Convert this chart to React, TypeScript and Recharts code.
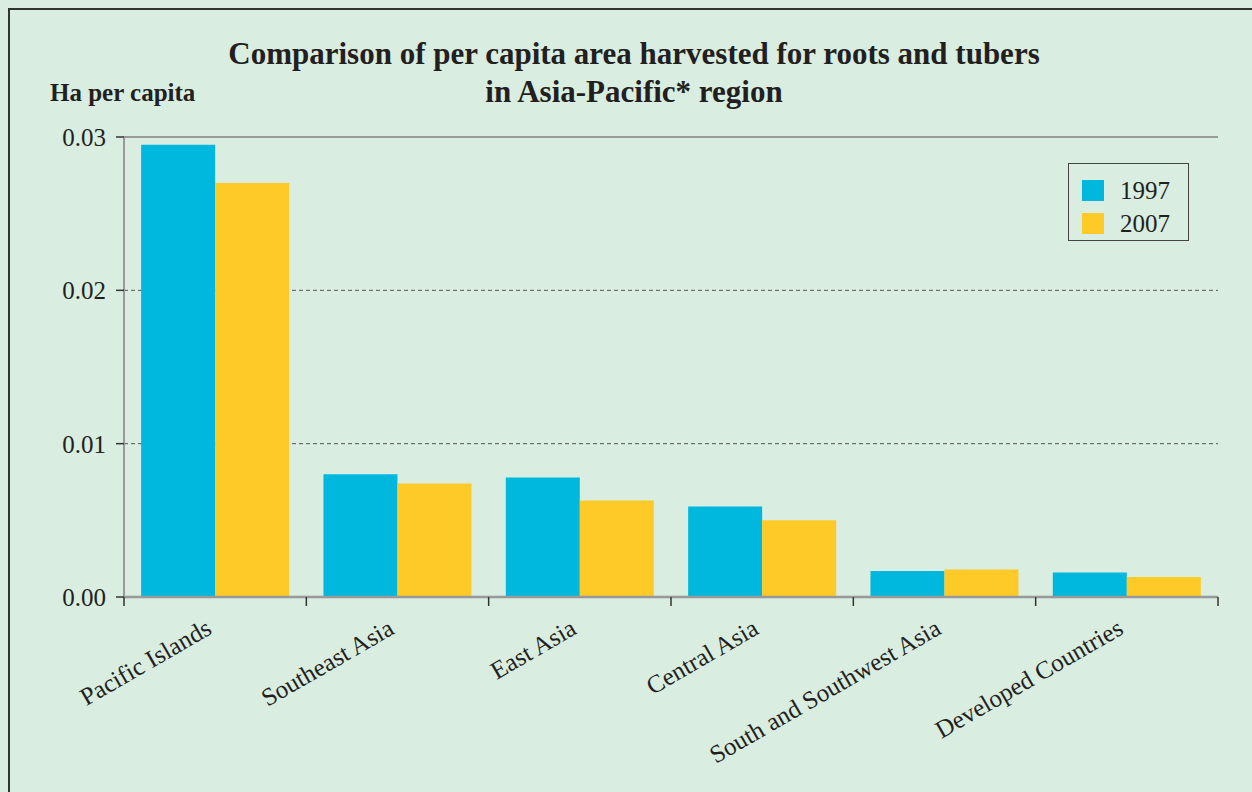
import React from "react";
import {
  BarChart,
  Bar,
  XAxis,
  YAxis,
  CartesianGrid,
  ReferenceLine,
  Legend,
} from "recharts";

const regions = [
  "Pacific Islands",
  "Southeast Asia",
  "East Asia",
  "Central Asia",
  "South and Southwest Asia",
  "Developed Countries",
];
const y1997 = [0.0295, 0.008, 0.0078, 0.0059, 0.0017, 0.0016];
const y2007 = [0.027, 0.0074, 0.0063, 0.005, 0.0018, 0.0013];
const yTicks = [0, 0.01, 0.02, 0.03];

const data = regions.map((name, i) => ({
  name,
  y1997: y1997[i],
  y2007: y2007[i],
}));

const BG = "#d9ede0";
const CYAN = "#00b8dd";
const YELLOW = "#fdca28";
const SERIF = "'Liberation Serif', 'Times New Roman', serif";

// rotated category label + tick marks on the category boundaries
const CategoryTick = (props: any) => {
  const { x, y, payload, index } = props;
  const half = payload.offset || 0;
  const top = y - 8;
  return (
    <g>
      <line x1={x - half} x2={x - half} y1={top} y2={top + 9} stroke="#333" strokeWidth={1.5} />
      {index === regions.length - 1 && (
        <line x1={x + half} x2={x + half} y1={top} y2={top + 9} stroke="#333" strokeWidth={1.5} />
      )}
      <g transform={`translate(${x - 2},${y + 28})`}>
        <text
          textAnchor="end"
          transform="rotate(-30)"
          fontFamily={SERIF}
          fontSize={25}
          fill="#231f20"
        >
          {payload.value}
        </text>
      </g>
    </g>
  );
};

const LegendBox = () => (
  <div
    style={{
      border: "1.5px solid #444",
      width: 121,
      height: 78,
      boxSizing: "border-box",
      padding: "10px 0 0 13px",
      fontFamily: SERIF,
      fontSize: 25,
      color: "#231f20",
    }}
  >
    {[
      { label: "1997", color: CYAN },
      { label: "2007", color: YELLOW },
    ].map((it) => (
      <div
        key={it.label}
        style={{ display: "flex", alignItems: "center", height: 33 }}
      >
        <span
          style={{
            width: 22,
            height: 21,
            background: it.color,
            display: "inline-block",
            marginRight: 16,
          }}
        />
        <span>{it.label}</span>
      </div>
    ))}
  </div>
);

export default function App() {
  return (
    <div
      style={{
        position: "absolute",
        left: 0,
        top: 0,
        width: 1252,
        height: 792,
        overflow: "hidden",
        background: BG,
      }}
    >
      {/* outer frame */}
      <div
        style={{
          position: "absolute",
          left: 8,
          top: 8,
          width: 1300,
          height: 900,
          border: "2px solid #333",
        }}
      />
      <div
        style={{
          position: "absolute",
          top: 35,
          left: 0,
          width: 1268,
          textAlign: "center",
          fontFamily: SERIF,
          fontWeight: "bold",
          fontSize: 31,
          lineHeight: "38px",
          color: "#231f20",
        }}
      >
        Comparison of per capita area harvested for roots and tubers
        <br />
        in Asia-Pacific* region
      </div>
      <div
        style={{
          position: "absolute",
          top: 79,
          left: 50,
          fontFamily: SERIF,
          fontWeight: "bold",
          fontSize: 25,
          color: "#231f20",
        }}
      >
        Ha per capita
      </div>
      <div style={{ position: "absolute", left: 0, top: 0 }}>
        <BarChart
          width={1252}
          height={792}
          data={data}
          margin={{ top: 137, right: 34, left: 0, bottom: 0 }}
          barCategoryGap="9.4%"
          barGap={0}
        >
          <CartesianGrid
            horizontal
            vertical={false}
            horizontalValues={[0.01, 0.02]}
            stroke="#555"
            strokeDasharray="4 3"
          />
          <XAxis
            dataKey="name"
            height={195}
            interval={0}
            axisLine={{ stroke: "#999", strokeWidth: 2.5 }}
            tickLine={false}
            tick={<CategoryTick />}
          />
          <YAxis
            width={124}
            domain={[0, 0.03]}
            ticks={yTicks}
            tickFormatter={(v: number) => v.toFixed(2)}
            axisLine={{ stroke: "#999", strokeWidth: 2 }}
            tickLine={{ stroke: "#333", strokeWidth: 1.5 }}
            tickSize={8}
            tickMargin={10}
            tick={{ fill: "#231f20", fontSize: 25, fontFamily: SERIF }}
          />
          <YAxis
            yAxisId="right"
            orientation="right"
            width={0}
            domain={[0, 0.03]}
            tick={false}
            tickLine={false}
            axisLine={{ stroke: "#999", strokeWidth: 2 }}
          />
          <ReferenceLine y={0.03} stroke="#999" strokeWidth={2} />
          <Legend
            layout="horizontal"
            verticalAlign="middle"
            align="center"
            content={() => <LegendBox />}
            wrapperStyle={{ position: "absolute", left: 1068, top: 163, width: 121 }}
          />
          <Bar dataKey="y1997" name="1997" fill={CYAN} isAnimationActive={false} />
          <Bar dataKey="y2007" name="2007" fill={YELLOW} isAnimationActive={false} />
        </BarChart>
      </div>
    </div>
  );
}
